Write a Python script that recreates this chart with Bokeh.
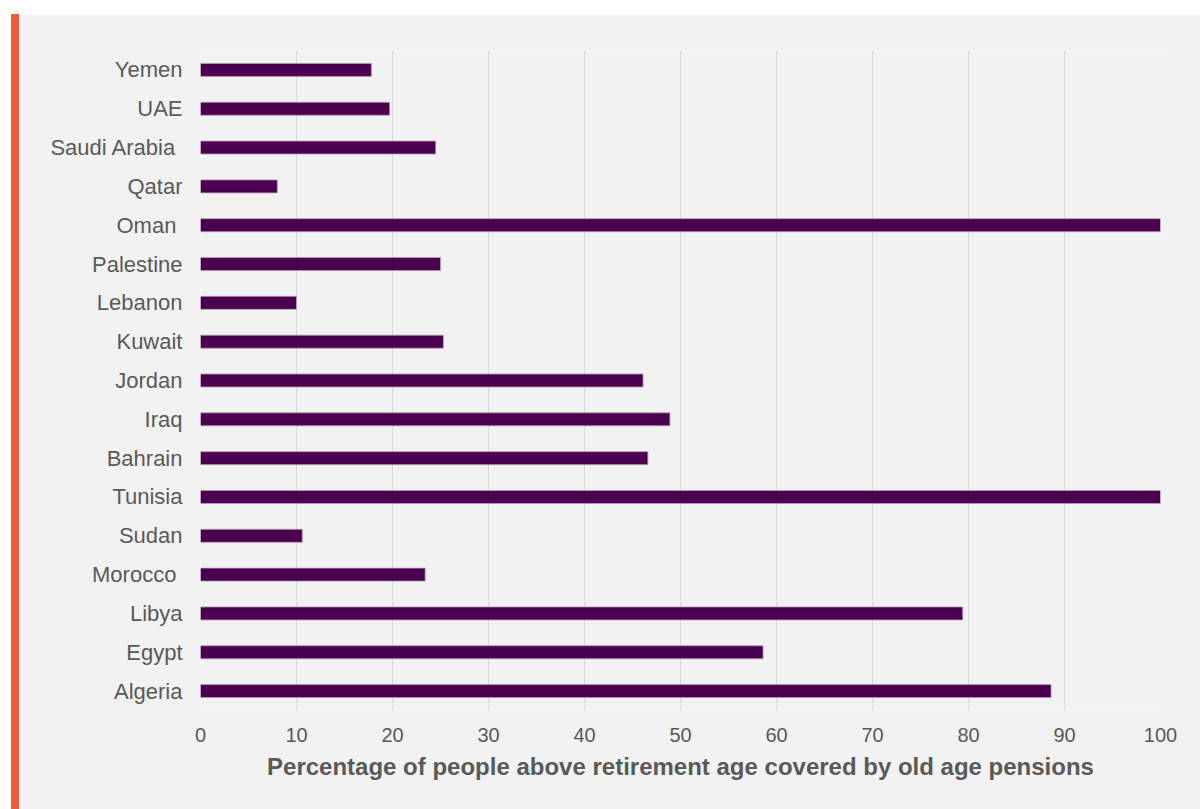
from bokeh.plotting import figure
from bokeh.layouts import column, row
from bokeh.models import Spacer, Div, ColumnDataSource, FixedTicker
from bokeh.embed import file_html
from bokeh.resources import INLINE

# Share of people above retirement age covered by old age pensions (%)
countries = ["Algeria", "Egypt", "Libya", "Morocco ", "Sudan", "Tunisia",
             "Bahrain", "Iraq", "Jordan", "Kuwait", "Lebanon", "Palestine",
             "Oman ", "Qatar", "Saudi Arabia ", "UAE", "Yemen"]
coverage = [88.6, 58.6, 79.4, 23.4, 10.6, 100.0,
            46.6, 48.9, 46.1, 25.3, 10.0, 25.0,
            100.0, 8.0, 24.5, 19.7, 17.8]
x_ticks = [0, 10, 20, 30, 40, 50, 60, 70, 80, 90, 100]

TEXT = "#595959"
BG = "#f2f2f2"
FONT = "Liberation Sans"

src = ColumnDataSource(data=dict(country=countries, value=coverage))

p = figure(
    y_range=countries, x_range=(0, 100),
    width=1181, height=795,
    output_backend="svg", toolbar_location=None,
    background_fill_color=BG, border_fill_color=BG,
    min_border_left=181, min_border_right=40,
    min_border_top=36, min_border_bottom=99,
    margin=0,
)
p.outline_line_color = None

p.hbar(y="country", right="value", left=0, height=0.335, source=src,
       fill_color="#4b004f", line_color="#b79cb8", line_width=0.8)

p.xaxis.ticker = FixedTicker(ticks=x_ticks)
p.xaxis.axis_label = "Percentage of people above retirement age covered by old age pensions"
p.xaxis.axis_label_text_font = FONT
p.xaxis.axis_label_text_font_style = "bold"
p.xaxis.axis_label_text_font_size = "24px"
p.xaxis.axis_label_text_color = TEXT
p.xaxis.axis_label_standoff = 8
p.xaxis.major_label_text_font = FONT
p.xaxis.major_label_text_font_size = "20px"
p.xaxis.major_label_text_color = TEXT
p.xaxis.major_label_standoff = 11
p.xaxis.axis_line_color = None
p.xaxis.major_tick_line_color = None
p.xaxis.minor_tick_line_color = None

p.yaxis.major_label_text_font = FONT
p.yaxis.major_label_text_font_size = "22px"
p.yaxis.major_label_text_color = TEXT
p.yaxis.major_label_standoff = 12
p.yaxis.axis_line_color = None
p.yaxis.major_tick_line_color = None
p.yaxis.minor_tick_line_color = None

p.xgrid.grid_line_color = "#d9d9d9"
p.xgrid.grid_line_width = 1
p.ygrid.grid_line_color = None

accent = Div(width=8, height=795, margin=0,
             styles={"background-color": "#f05a38"})
layout = column(
    Spacer(width=1200, height=14, margin=0),
    row(Spacer(width=11, height=795, margin=0), accent, p,
        spacing=0, margin=0),
    spacing=0, margin=0,
)

open("out.html", "w").write(file_html(layout, INLINE))
